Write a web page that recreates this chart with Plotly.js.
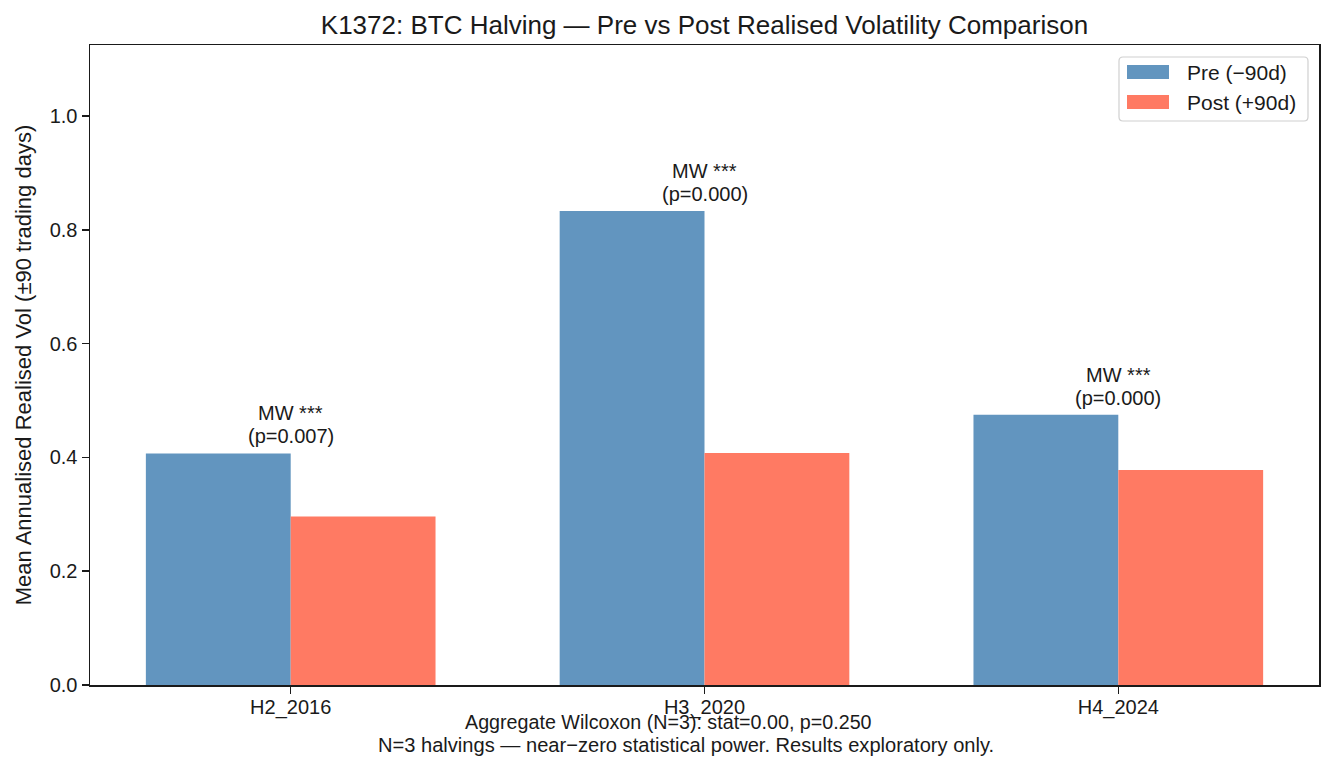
<!DOCTYPE html>
<html>
<head>
<meta charset="utf-8">
<script src="https://cdn.plot.ly/plotly-3.0.1.min.js"></script>
<style>html,body{margin:0;padding:0;background:#fff;}#chart{width:1333px;height:769px;}</style>
</head>
<body>
<div id="chart"></div>
<script>
const categories = ["H2_2016", "H3_2020", "H4_2024"];
const preVol = [0.407, 0.833, 0.475];
const postVol = [0.296, 0.408, 0.378];
const pValues = ["0.007", "0.000", "0.000"];
const sigLabels = ["***", "***", "***"];
const seriesNames = ["Pre (\u221290d)", "Post (+90d)"];
const seriesColors = ["#6295bf", "#ff7a63"];
const footLines = [
  "Aggregate Wilcoxon (N=3): stat=0.00, p=0.250",
  "N=3 halvings \u2014 near\u2212zero statistical power. Results exploratory only."
];

const FONT = "Liberation Sans, Arial, sans-serif";
const TXT = "#1a1a1a";

const traces = [
  {type: "bar", name: seriesNames[0], x: categories, y: preVol,
   marker: {color: seriesColors[0]}, showlegend: false},
  {type: "bar", name: seriesNames[1], x: categories, y: postVol,
   marker: {color: seriesColors[1]}, showlegend: false}
];

const annotations = [];
categories.forEach((c, i) => {
  const top = Math.max(preVol[i], postVol[i]);
  annotations.push({x: c, y: top, xref: "x", yref: "y", text: "MW " + sigLabels[i],
    showarrow: false, xanchor: "center", yanchor: "middle", yshift: 40,
    font: {size: 20, color: TXT, family: FONT}});
  annotations.push({x: c, y: top, xref: "x", yref: "y", text: "(p=" + pValues[i] + ")",
    showarrow: false, xanchor: "center", yanchor: "middle", yshift: 17,
    font: {size: 20, color: TXT, family: FONT}});
});
// footnote lines (paper coords; plot area is 90..1319 px wide, 45..685 px high)
annotations.push({x: (668 - 90) / 1229, y: (685 - 722) / 640, xref: "paper", yref: "paper",
  xanchor: "center", yanchor: "middle", text: footLines[0], showarrow: false,
  font: {size: 19.7, color: TXT, family: FONT}});
annotations.push({x: (686 - 90) / 1229, y: (685 - 745) / 640, xref: "paper", yref: "paper",
  xanchor: "center", yanchor: "middle", text: footLines[1], showarrow: false,
  font: {size: 20.1, color: TXT, family: FONT}});

// custom legend
const px = v => (v - 90) / 1229;
const py = v => (685 - v) / 640;
const shapes = [];
(function legendBox() {
  const x0 = 1119, x1 = 1308, y0 = 57, y1 = 121, r = 4;
  const X = px, Y = py;
  const d = `M ${X(x0 + r)},${Y(y0)} L ${X(x1 - r)},${Y(y0)} Q ${X(x1)},${Y(y0)} ${X(x1)},${Y(y0 + r)} ` +
            `L ${X(x1)},${Y(y1 - r)} Q ${X(x1)},${Y(y1)} ${X(x1 - r)},${Y(y1)} ` +
            `L ${X(x0 + r)},${Y(y1)} Q ${X(x0)},${Y(y1)} ${X(x0)},${Y(y1 - r)} ` +
            `L ${X(x0)},${Y(y0 + r)} Q ${X(x0)},${Y(y0)} ${X(x0 + r)},${Y(y0)} Z`;
  shapes.push({type: "path", xref: "paper", yref: "paper", path: d,
    fillcolor: "rgba(255,255,255,0.8)", line: {color: "#d0d0d0", width: 1.2}});
})();
const rowCenters = [72, 102];
seriesNames.forEach((n, i) => {
  const yc = rowCenters[i];
  shapes.push({type: "rect", xref: "paper", yref: "paper",
    x0: px(1127), x1: px(1169), y0: py(yc + 7), y1: py(yc - 7),
    fillcolor: seriesColors[i], line: {width: 0}});
  annotations.push({x: px(1185), y: py(yc), xref: "paper", yref: "paper",
    xanchor: "left", yanchor: "middle", text: n, showarrow: false,
    font: {size: 21, color: TXT, family: FONT}});
});

const layout = {
  width: 1333, height: 769,
  margin: {l: 90, r: 14, t: 45, b: 84},
  paper_bgcolor: "#fff", plot_bgcolor: "#fff",
  font: {family: FONT, size: 20, color: TXT},
  title: {text: "K1372: BTC Halving \u2014 Pre vs Post Realised Volatility Comparison",
          x: 0.5285, xanchor: "center", y: 1 - 25 / 769, yanchor: "middle", yref: "container",
          font: {size: 26, family: FONT, color: TXT}},
  barmode: "group", bargap: 0.3, bargroupgap: 0,
  xaxis: {type: "category", range: [-0.485, 2.485], showline: true, mirror: true,
          linecolor: TXT, linewidth: 1.5, ticks: "outside", ticklen: 7, tickwidth: 1.5,
          tickcolor: TXT, showgrid: false, zeroline: false, tickfont: {size: 20},
          ticklabelstandoff: -4},
  yaxis: {range: [0, 1.125], showline: true, mirror: true, linecolor: TXT, linewidth: 1.5,
          ticks: "outside", ticklen: 7, tickwidth: 1.5, tickcolor: TXT, showgrid: false,
          zeroline: false, dtick: 0.2, tickformat: ".1f", tickfont: {size: 20},
          title: {text: "Mean Annualised Realised Vol (\u00b190 trading days)", standoff: 12,
                  font: {size: 22}}},
  shapes: shapes,
  annotations: annotations
};

Plotly.newPlot("chart", traces, layout, {displayModeBar: false, staticPlot: true});
</script>
</body>
</html>
